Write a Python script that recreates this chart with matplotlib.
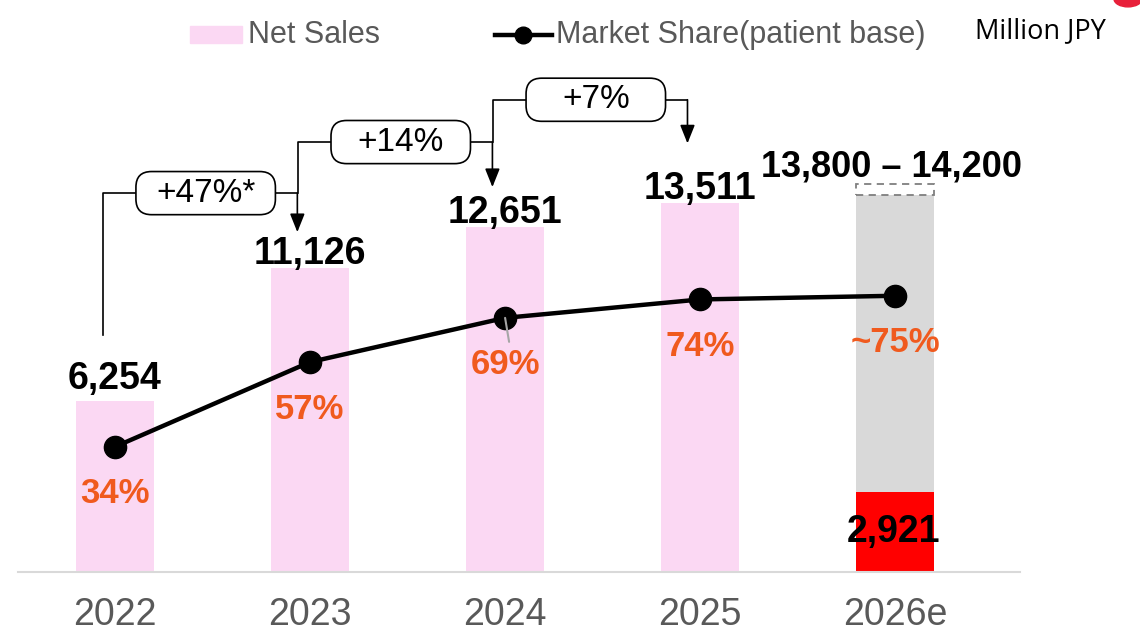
import matplotlib.pyplot as plt
from matplotlib.patches import FancyBboxPatch, Rectangle, Circle
from matplotlib.lines import Line2D
import numpy as np

years = ["2022", "2023", "2024", "2025", "2026e"]
net_sales = [6254, 11126, 12651, 13511]
forecast_low = 13800
forecast_high = 14200
forecast_part = 2921
share = [34, 57, 69, 74, 75]
share_labels = ["34%", "57%", "69%", "74%", "~75%"]
growth = ["+47%*", "+14%", "+7%"]

# layout of the growth callouts (data units of the sales axis)
box_y = [13880, 15750, 17300]
tip_y = [12450, 14100, 15700]
first_start = 8680
label_gap = [12, 4, 4, 4]

pink = "#fbd8f3"
orange = "#f05a1e"
grey_txt = "#595959"

plt.rcParams['font.family'] = ['Liberation Sans', 'DejaVu Sans']

fig = plt.figure(figsize=(11.4, 6.42), dpi=100)
ax = fig.add_axes([0.0158, 0.109, 0.879, 0.7975])
ax2 = ax.twinx()

x = np.arange(len(years))
ax.bar(x[:4], net_sales, width=0.4, color=pink, zorder=1)
ax.bar(x[4], forecast_low, width=0.4, color="#d9d9d9", zorder=1)
ax.bar(x[4], forecast_part, width=0.4, color="#ff0000", zorder=2)
ax.add_patch(Rectangle((x[4] - 0.2, forecast_low), 0.4, forecast_high - forecast_low,
                       fill=False, ec="#7f7f7f", lw=1.3, ls=(0, (4, 3)), zorder=2))

ax.set_xlim(-0.497, 4.64)
ax.set_ylim(0, 18755)
ax2.set_ylim(0, 139)

# value labels
for i, v in enumerate(net_sales):
    ax.annotate(f"{v:,}", (x[i], v), xytext=(0, label_gap[i]), textcoords="offset pixels",
                ha="center", va="baseline", fontsize=27, fontweight="bold")
ax.annotate(f"{forecast_low:,} – {forecast_high:,}", (x[4], forecast_high), xytext=(-4, 8),
            textcoords="offset pixels", ha="center", va="baseline", fontsize=26, fontweight="bold")
ax.text(x[4] - 0.01, forecast_part / 2, f"{forecast_part:,}", ha="center", va="center",
        fontsize=27, fontweight="bold", zorder=3)

# market share line
ax2.plot(x, share, color="black", lw=3.2, marker="o", ms=16, zorder=3)
for i, s in enumerate(share):
    ax2.annotate(share_labels[i], (x[i], s), xytext=(0, -47), textcoords="offset pixels",
                 ha="center", va="center", fontsize=25, fontweight="bold", color=orange)
ax2.annotate("", xy=(x[2], share[2]), xytext=(4, -24), textcoords="offset pixels",
             arrowprops=dict(arrowstyle="-", color="#a6a6a6", lw=1.5, shrinkA=0, shrinkB=0),
             zorder=4)

# growth callouts
bw = 0.715
bh = 1580
for i, g in enumerate(growth):
    xl = i - 0.06
    xr = i + 1 - 0.065
    xc = i + 0.465
    yb = box_y[i]
    start = first_start if i == 0 else box_y[i - 1]
    ax.plot([xl, xl, xc - bw / 2], [start, yb, yb], color="black", lw=1.2, zorder=4)
    ax.plot([xc + bw / 2, xr], [yb, yb], color="black", lw=1.2, zorder=4)
    ax.annotate("", xy=(xr, tip_y[i]), xytext=(xr, yb),
                arrowprops=dict(arrowstyle="-|>,head_length=0.45,head_width=0.18",
                                color="black", lw=1.2, mutation_scale=25,
                                shrinkA=0, shrinkB=0), zorder=4)
    ax.add_patch(FancyBboxPatch((xc - bw / 2, yb - bh / 2), bw, bh,
                                boxstyle="round,pad=0,rounding_size=0.08",
                                mutation_aspect=7140, fc="white", ec="black", lw=1.2, zorder=5))
    ax.text(xc, yb, g, ha="center", va="center", fontsize=24, zorder=6)

# axes styling
for sp in ["top", "left", "right"]:
    ax.spines[sp].set_visible(False)
    ax2.spines[sp].set_visible(False)
ax2.spines["bottom"].set_visible(False)
ax.spines["bottom"].set_color("#d9d9d9")
ax.spines["bottom"].set_linewidth(1.5)
ax.set_yticks([])
ax2.set_yticks([])
ax.set_xticks(x, years)
ax.tick_params(axis="x", length=0, pad=18, labelsize=27, labelcolor=grey_txt)

# legend drawn by hand
fig.patches.append(Rectangle((190 / 1140, 1 - 43 / 642), 52 / 1140, 17 / 642,
                             transform=fig.transFigure, color=pink))
fig.text(248 / 1140, 1 - 35 / 642, "Net Sales", fontsize=22, color=grey_txt, va="center")
fig.lines.append(Line2D([495 / 1140, 552 / 1140], [1 - 35 / 642, 1 - 35 / 642],
                        transform=fig.transFigure, color="black", lw=3.2))
fig.lines.append(Line2D([523 / 1140], [1 - 35 / 642], transform=fig.transFigure,
                        color="black", marker="o", ms=12))
fig.text(556 / 1140, 1 - 35 / 642, "Market Share(patient base)", fontsize=22,
         color=grey_txt, va="center")
fig.text(975 / 1140, 1 - 31 / 642, "Million JPY", fontsize=19.5, color="black", va="center",
         family=["Open Sans", "DejaVu Sans"])
fig.patches.append(Circle((1128 / 1140, 1 + 1 / 642), 14 / 1140, transform=fig.transFigure,
                          color="#e8203a"))

fig.savefig("out.png", dpi=100)
